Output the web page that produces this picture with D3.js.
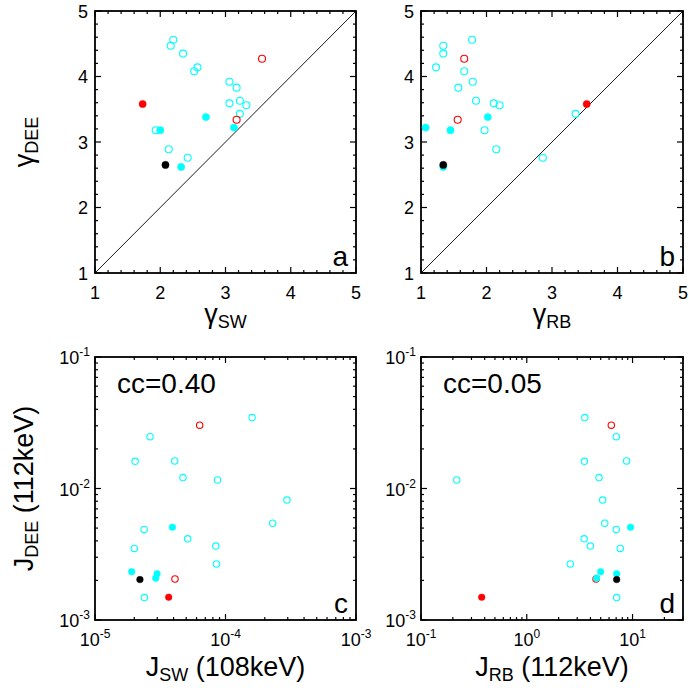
<!DOCTYPE html>
<html><head><meta charset="utf-8">
<script src="https://cdn.jsdelivr.net/npm/d3@7"></script>
<style>
body{margin:0;background:#fff}
svg{display:block}
text{font-family:"Liberation Sans",Arial,Helvetica,sans-serif;fill:#000}
</style>
</head><body>
<svg id="chart" width="689" height="690"></svg>
<script>
// ---------- DATA ----------
// spectral index gamma (panels a, b)
const gDEE_openCyan = [4.56, 4.47, 4.35, 4.14, 4.08, 3.92, 3.83, 3.63, 3.56, 3.59, 3.43, 3.18, 2.89, 2.76];
const gSW_openCyan  = [2.20, 2.16, 2.35, 2.57, 2.52, 3.06, 3.17, 3.22, 3.32, 3.06, 3.22, 1.93, 2.13, 2.42];
const gRB_openCyan  = [1.78, 1.34, 1.34, 1.23, 1.66, 1.79, 1.57, 1.84, 2.20, 2.11, 3.36, 1.97, 2.15, 2.86];
const gDEE_openRed = [4.27, 3.34];
const gSW_openRed  = [3.56, 3.17];
const gRB_openRed  = [1.66, 1.56];
const gDEE_fillCyan = [3.18, 3.38, 3.22, 2.62];
const gSW_fillCyan  = [2.00, 2.70, 3.13, 2.32];
const gRB_fillCyan  = [1.45, 2.02, 1.07, 1.34];
const gDEE_fillRed = [3.58];
const gSW_fillRed  = [1.73];
const gRB_fillRed  = [3.53];
const gDEE_fillBlack = [2.65];
const gSW_fillBlack  = [2.08];
const gRB_fillBlack  = [1.34];

// fluxes J (panels c, d)
const jDEE_openCyan = [0.0346, 0.0248, 0.0161, 0.0162, 0.0121, 0.0116, 0.00816, 0.00544, 0.00488, 0.00414, 0.00350, 0.00365, 0.00267, 0.00148];
const jSW_openCyan  = [1.60e-4, 2.64e-5, 2.03e-5, 4.08e-5, 4.72e-5, 8.68e-5, 2.96e-4, 2.30e-4, 2.38e-5, 5.13e-5, 2.00e-5, 8.43e-5, 8.53e-5, 2.39e-5];
const jDEE_openCyanD = [0.0346, 0.0248, 0.0161, 0.0162, 0.0121, 0.0116, 0.00816, 0.00544, 0.00488, 0.00414, 0.00350, 0.00365, 0.00267, 0.00148];
const jRB_openCyan  = [3.54, 7.02, 3.51, 8.79, 4.82, 0.218, 5.22, 5.46, 7.02, 3.49, 7.66, 4.00, 2.58, 7.08];
const jDEE_openRed = [0.0303, 0.00205];
const jSW_openRed  = [6.34e-5, 4.10e-5];
const jRB_openRed  = [6.30, 4.52];
const jDEE_fillCyan = [0.00507, 0.00233, 0.00225, 0.00208];
const jSW_fillCyan  = [3.92e-5, 1.91e-5, 2.99e-5, 2.92e-5];
const jDEE_fillCyanD = [0.00507, 0.00233, 0.00225, 0.00208];
const jRB_fillCyan  = [9.57, 5.00, 7.08, 4.58];
const jDEE_fillRed = [0.00149];
const jSW_fillRed  = [3.67e-5];
const jRB_fillRed  = [0.375];
const jDEE_fillBlack = [0.00203];
const jSW_fillBlack  = [2.21e-5];
const jRB_fillBlack  = [7.08];

const ccLabels = ["cc=0.40", "cc=0.05"];
const panelLetters = ["a", "b", "c", "d"];
const linTicks = [1, 2, 3, 4, 5];

// ---------- DRAW ----------
const svg = d3.select("#chart");
const CYAN = "#00ffff", RED = "#ff0000", BLACK = "#000000";

function zip(xs, ys){ return xs.map((v,i)=>[v, ys[i]]); }

function logTicks(dom){
  const lo = Math.floor(Math.log10(dom[0])), hi = Math.ceil(Math.log10(dom[1]));
  const major = [], minor = [];
  for(let e=lo; e<=hi; e++){
    for(let k=1;k<=9;k++){
      const v = k*Math.pow(10,e);
      if(v < dom[0]*0.999 || v > dom[1]*1.001) continue;
      (k===1 ? major : minor).push(v);
    }
  }
  return {major, minor};
}
function linTicksOf(dom){
  const major = linTicks.filter(v=>v>=dom[0]&&v<=dom[1]);
  const minor = d3.range(dom[0], dom[1]+1e-9, 0.2).map(v=>+v.toFixed(2)).filter(v=>Math.abs(v-Math.round(v))>1e-6);
  return {major, minor};
}

function addLogLabel(g, val, attrs, anchor){
  const e = Math.round(Math.log10(val));
  const t = g.append("text").attr("x", attrs.x).attr("y", attrs.y)
    .attr("text-anchor", anchor).attr("font-size", 18);
  t.append("tspan").text("10");
  t.append("tspan").attr("font-size", 12).attr("dy", -8).text(String(e));
  return t;
}

function panel(o){
  const g = svg.append("g");
  const L=o.left, T=o.top, W=o.w, H=o.h, R=L+W, B=T+H;
  const x = (o.xlog? d3.scaleLog(): d3.scaleLinear()).domain(o.xd).range([L, R]);
  const y = (o.ylog? d3.scaleLog(): d3.scaleLinear()).domain(o.yd).range([B, T]);
  const xt = o.xlog? logTicks(o.xd): linTicksOf(o.xd);
  const yt = o.ylog? logTicks(o.yd): linTicksOf(o.yd);
  const MAJ=6, MIN=3;
  const tk = g.append("g").attr("stroke", "#000").attr("stroke-width", 1.2);
  [[xt.major,MAJ],[xt.minor,MIN]].forEach(([vals,len])=>{
    vals.forEach(v=>{
      const px = x(v);
      tk.append("line").attr("x1",px).attr("x2",px).attr("y1",B).attr("y2",B-len);
      tk.append("line").attr("x1",px).attr("x2",px).attr("y1",T).attr("y2",T+len);
    });
  });
  [[yt.major,MAJ],[yt.minor,MIN]].forEach(([vals,len])=>{
    vals.forEach(v=>{
      const py = y(v);
      tk.append("line").attr("y1",py).attr("y2",py).attr("x1",L).attr("x2",L+len);
      tk.append("line").attr("y1",py).attr("y2",py).attr("x1",R).attr("x2",R-len);
    });
  });
  // diagonal
  if(o.diag){
    g.append("line").attr("x1",x(o.xd[0])).attr("y1",y(o.yd[0])).attr("x2",x(o.xd[1])).attr("y2",y(o.yd[1]))
      .attr("stroke","#000").attr("stroke-width",0.9);
  }
  // frame
  g.append("rect").attr("x",L).attr("y",T).attr("width",W).attr("height",H)
    .attr("fill","none").attr("stroke","#000").attr("stroke-width",1.8);
  // tick labels
  xt.major.forEach(v=>{
    if(o.xlog) addLogLabel(g, v, {x:x(v), y:B+26}, "middle");
    else g.append("text").attr("x",x(v)).attr("y",B+26).attr("text-anchor","middle").attr("font-size",18).text(v);
  });
  yt.major.forEach(v=>{
    if(o.ylog) addLogLabel(g, v, {x:L-5, y:y(v)+7}, "end");
    else g.append("text").attr("x",L-7).attr("y",y(v)+6.5).attr("text-anchor","end").attr("font-size",18).text(v);
  });
  // points
  const r = o.r || 3.3;
  o.series.forEach(s=>{
    g.append("g").selectAll("circle").data(s.data).join("circle")
      .attr("cx", d=>x(d[0])).attr("cy", d=>y(d[1])).attr("r", s.fill? r: r-0.1)
      .attr("fill", s.fill? s.color: "none")
      .attr("stroke", s.color).attr("stroke-width", s.fill? 0.5: 1.1);
  });
  // panel letter
  g.append("text").attr("x", R-8).attr("y", B-7).attr("text-anchor","end").attr("font-size",28).text(o.letter);
  if(o.cc) g.append("text").attr("x", L+22).attr("y", T+36).attr("font-size",28).text(o.cc);
  // x title
  const xtT = g.append("text").attr("x",(L+R)/2).attr("y", B+o.xtOff).attr("text-anchor","middle").attr("font-size",27);
  xtT.append("tspan").text(o.xTitle[0]);
  xtT.append("tspan").attr("font-size",18).attr("dy",5).text(o.xTitle[1]);
  if(o.xTitle[2]) xtT.append("tspan").attr("dy",-5).text(o.xTitle[2]);
  // y title
  if(o.yTitle){
    const cy = (T+B)/2;
    const ytT = g.append("text").attr("transform",`translate(${o.ytX},${cy}) rotate(-90)`).attr("text-anchor","middle").attr("font-size",27);
    ytT.append("tspan").text(o.yTitle[0]);
    ytT.append("tspan").attr("font-size",18).attr("dy",5).text(o.yTitle[1]);
    if(o.yTitle[2]) ytT.append("tspan").attr("dy",-5).text(o.yTitle[2]);
  }
}

panel({left:95, top:11, w:261, h:262, xd:[1,5], yd:[1,5], diag:true, letter:panelLetters[0],
  xTitle:["γ","SW"], xtOff:50, yTitle:["γ","DEE"], ytX:33, r:3.6,
  series:[
    {data:zip(gSW_openCyan,gDEE_openCyan), color:CYAN, fill:false},
    {data:zip(gSW_openRed,gDEE_openRed), color:RED, fill:false},
    {data:zip(gSW_fillCyan,gDEE_fillCyan), color:CYAN, fill:true},
    {data:zip(gSW_fillRed,gDEE_fillRed), color:RED, fill:true},
    {data:zip(gSW_fillBlack,gDEE_fillBlack), color:BLACK, fill:true}
  ]});
panel({left:421, top:11, w:262, h:262, xd:[1,5], yd:[1,5], diag:true, letter:panelLetters[1],
  xTitle:["γ","RB"], xtOff:50, r:3.6,
  series:[
    {data:zip(gRB_openCyan,gDEE_openCyan), color:CYAN, fill:false},
    {data:zip(gRB_openRed,gDEE_openRed), color:RED, fill:false},
    {data:zip(gRB_fillCyan,gDEE_fillCyan), color:CYAN, fill:true},
    {data:zip(gRB_fillRed,gDEE_fillRed), color:RED, fill:true},
    {data:zip(gRB_fillBlack,gDEE_fillBlack), color:BLACK, fill:true}
  ]});
panel({left:95, top:357, w:261, h:263, xd:[1e-5,1e-3], yd:[1e-3,1e-1], xlog:true, ylog:true, letter:panelLetters[2],
  cc:ccLabels[0], xTitle:["J","SW"," (108keV)"], xtOff:56, yTitle:["J","DEE"," (112keV)"], ytX:33, r:3.3,
  series:[
    {data:zip(jSW_openCyan,jDEE_openCyan), color:CYAN, fill:false},
    {data:zip(jSW_openRed,jDEE_openRed), color:RED, fill:false},
    {data:zip(jSW_fillCyan,jDEE_fillCyan), color:CYAN, fill:true},
    {data:zip(jSW_fillRed,jDEE_fillRed), color:RED, fill:true},
    {data:zip(jSW_fillBlack,jDEE_fillBlack), color:BLACK, fill:true}
  ]});
panel({left:421, top:357, w:262, h:263, xd:[0.1,30], yd:[1e-3,1e-1], xlog:true, ylog:true, letter:panelLetters[3],
  cc:ccLabels[1], xTitle:["J","RB"," (112keV)"], xtOff:56, r:3.3,
  series:[
    {data:zip(jRB_openCyan,jDEE_openCyanD), color:CYAN, fill:false},
    {data:zip(jRB_openRed,jDEE_openRed), color:RED, fill:false},
    {data:zip(jRB_fillCyan,jDEE_fillCyanD), color:CYAN, fill:true},
    {data:zip(jRB_fillRed,jDEE_fillRed), color:RED, fill:true},
    {data:zip(jRB_fillBlack,jDEE_fillBlack), color:BLACK, fill:true}
  ]});
</script>
</body></html>
